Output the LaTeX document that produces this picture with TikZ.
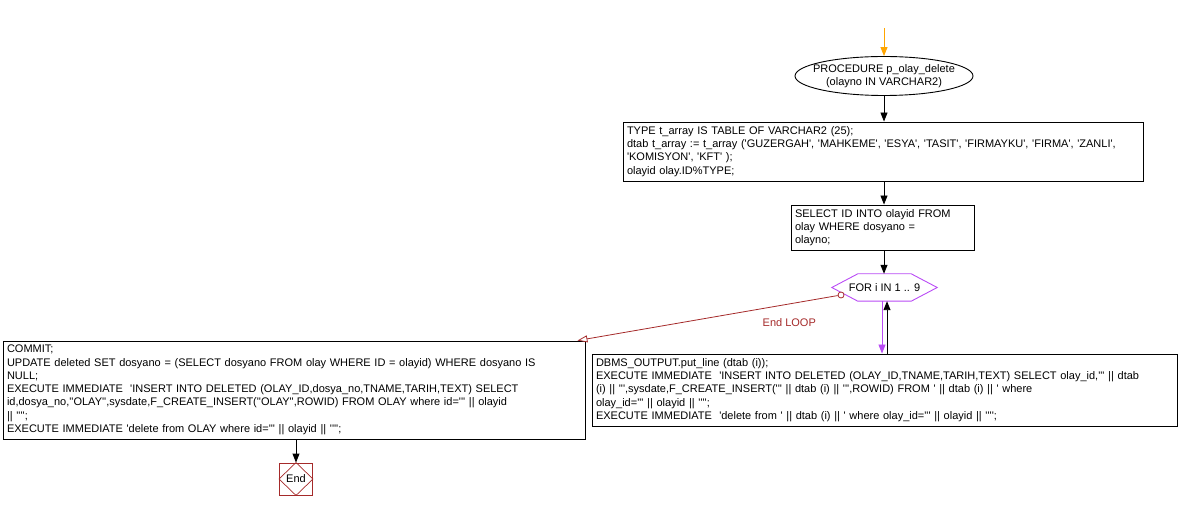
\documentclass[tikz,border=0pt]{standalone}
\usepackage{fontspec}
\setmainfont{Liberation Sans}[Ligatures=TeXOff]
\usetikzlibrary{shapes.geometric,arrows.meta,calc}
\definecolor{orangec}{RGB}{255,165,0}
\definecolor{loopviolet}{RGB}{185,75,245}
\definecolor{darkredc}{RGB}{165,42,42}
\tikzset{
  txt/.style={font=\fontsize{11}{13.3}\selectfont},
  proc/.style={txt, draw, rectangle, align=left, inner xsep=4pt, inner ysep=2pt, line width=0.9pt},
  flow/.style={-{Triangle[length=9pt,width=7pt]}, line width=0.9pt},
}
\begin{document}
\begin{tikzpicture}[x=1pt,y=-1pt]
\useasboundingbox (0,0) rectangle (1180,510);

\coordinate (entry) at (884,28);
\node[txt, ellipse, draw, line width=0.9pt, minimum width=178pt, minimum height=39pt, inner sep=0pt] (start) at (884,76)
  {\makebox[0pt][c]{\begin{tabular}{@{}c@{}}PROCEDURE p\_olay\_delete\\(olayno IN VARCHAR2)\end{tabular}}};

\node[proc, text width=512pt, minimum height=59pt] (b1) at (883,151.5)
  {TYPE t\_array IS TABLE OF VARCHAR2 (25);\\
   dtab t\_array := t\_array ('GUZERGAH', 'MAHKEME', 'ESYA', 'TASIT', 'FIRMAYKU', 'FIRMA', 'ZANLI',\\
   'KOMISYON', 'KFT' );\\
   olayid olay.ID\%TYPE;};

\node[proc, text width=175pt, minimum height=45pt] (b2) at (882.5,227.5)
  {SELECT ID INTO olayid FROM\\
   olay WHERE dosyano =\\
   olayno;};

\node[txt, draw=none, minimum width=105pt, minimum height=27pt, inner sep=0pt] (loop) at (884.5,287.5) {FOR i IN 1 .. 9};
\draw[loopviolet, line width=0.9pt] (loop.west) -- ($(loop.north west)+(26,0)$) -- ($(loop.north east)+(-26,0)$)
  -- (loop.east) -- ($(loop.south east)+(-26,0)$) -- ($(loop.south west)+(26,0)$) -- cycle;

\node[proc, text width=577pt, minimum height=72pt] (b3) at (884.5,390)
  {DBMS\_OUTPUT.put\_line (dtab (i));\\
   EXECUTE IMMEDIATE\ \ 'INSERT INTO DELETED (OLAY\_ID,TNAME,TARIH,TEXT) SELECT olay\_id,''' || dtab\\
   (i) || ''',sysdate,F\_CREATE\_INSERT(''' || dtab (i) || ''',ROWID) FROM ' || dtab (i) || ' where\\
   olay\_id=''' || olayid || '''';\\
   EXECUTE IMMEDIATE\ \ 'delete from ' || dtab (i) || ' where olay\_id=''' || olayid || '''';};

\node[proc, text width=574pt, minimum height=98pt] (b4) at (294,390)
  {COMMIT;\\
   UPDATE deleted SET dosyano = (SELECT dosyano FROM olay WHERE ID = olayid) WHERE dosyano IS\\
   NULL;\\
   EXECUTE IMMEDIATE\ \ 'INSERT INTO DELETED (OLAY\_ID,dosya\_no,TNAME,TARIH,TEXT) SELECT\\
   id,dosya\_no,''OLAY'',sysdate,F\_CREATE\_INSERT(''OLAY'',ROWID) FROM OLAY where id=''' || olayid\\
   || '''';\\
   EXECUTE IMMEDIATE 'delete from OLAY where id=''' || olayid || '''';};

\node[txt, draw=darkredc, line width=0.9pt, minimum width=33pt, minimum height=32pt, inner sep=0pt] (end) at (296,479) {End};
\draw[darkredc, line width=0.7pt] (end.north) -- (end.east) -- (end.south) -- (end.west) -- cycle;

\node[circle, draw=darkredc, fill=white, line width=0.8pt, inner sep=0pt, minimum size=6pt] (exitc) at (841,295) {};
\coordinate (looptip) at ($(b4.north east)+(-8,0)$);

% connectors
\draw[flow, orangec] (entry) -- (start.north);
\draw[flow] (start.south) -- (start.south |- b1.north);
\draw[flow] (start |- b1.south) -- (start |- b2.north);
\draw[flow] (start |- b2.south) -- (start |- loop.north);
\draw[flow, loopviolet] ($(loop.south)+(-2.5,0)$) -- ($(loop.south |- b3.north)+(-2.5,0)$);
\draw[flow] ($(loop.south |- b3.north)+(2.5,0)$) -- ($(loop.south)+(2.5,0)$);
\draw[darkredc, line width=0.8pt, -{Triangle[open,length=10pt,width=7pt,fill=white]}] (exitc) -- (looptip)
  node[txt, text=darkredc, pos=0.186, yshift=-18.5pt] {End LOOP};
\draw[flow] (b4.south -| end) -- (end.north);
\end{tikzpicture}
\end{document}
